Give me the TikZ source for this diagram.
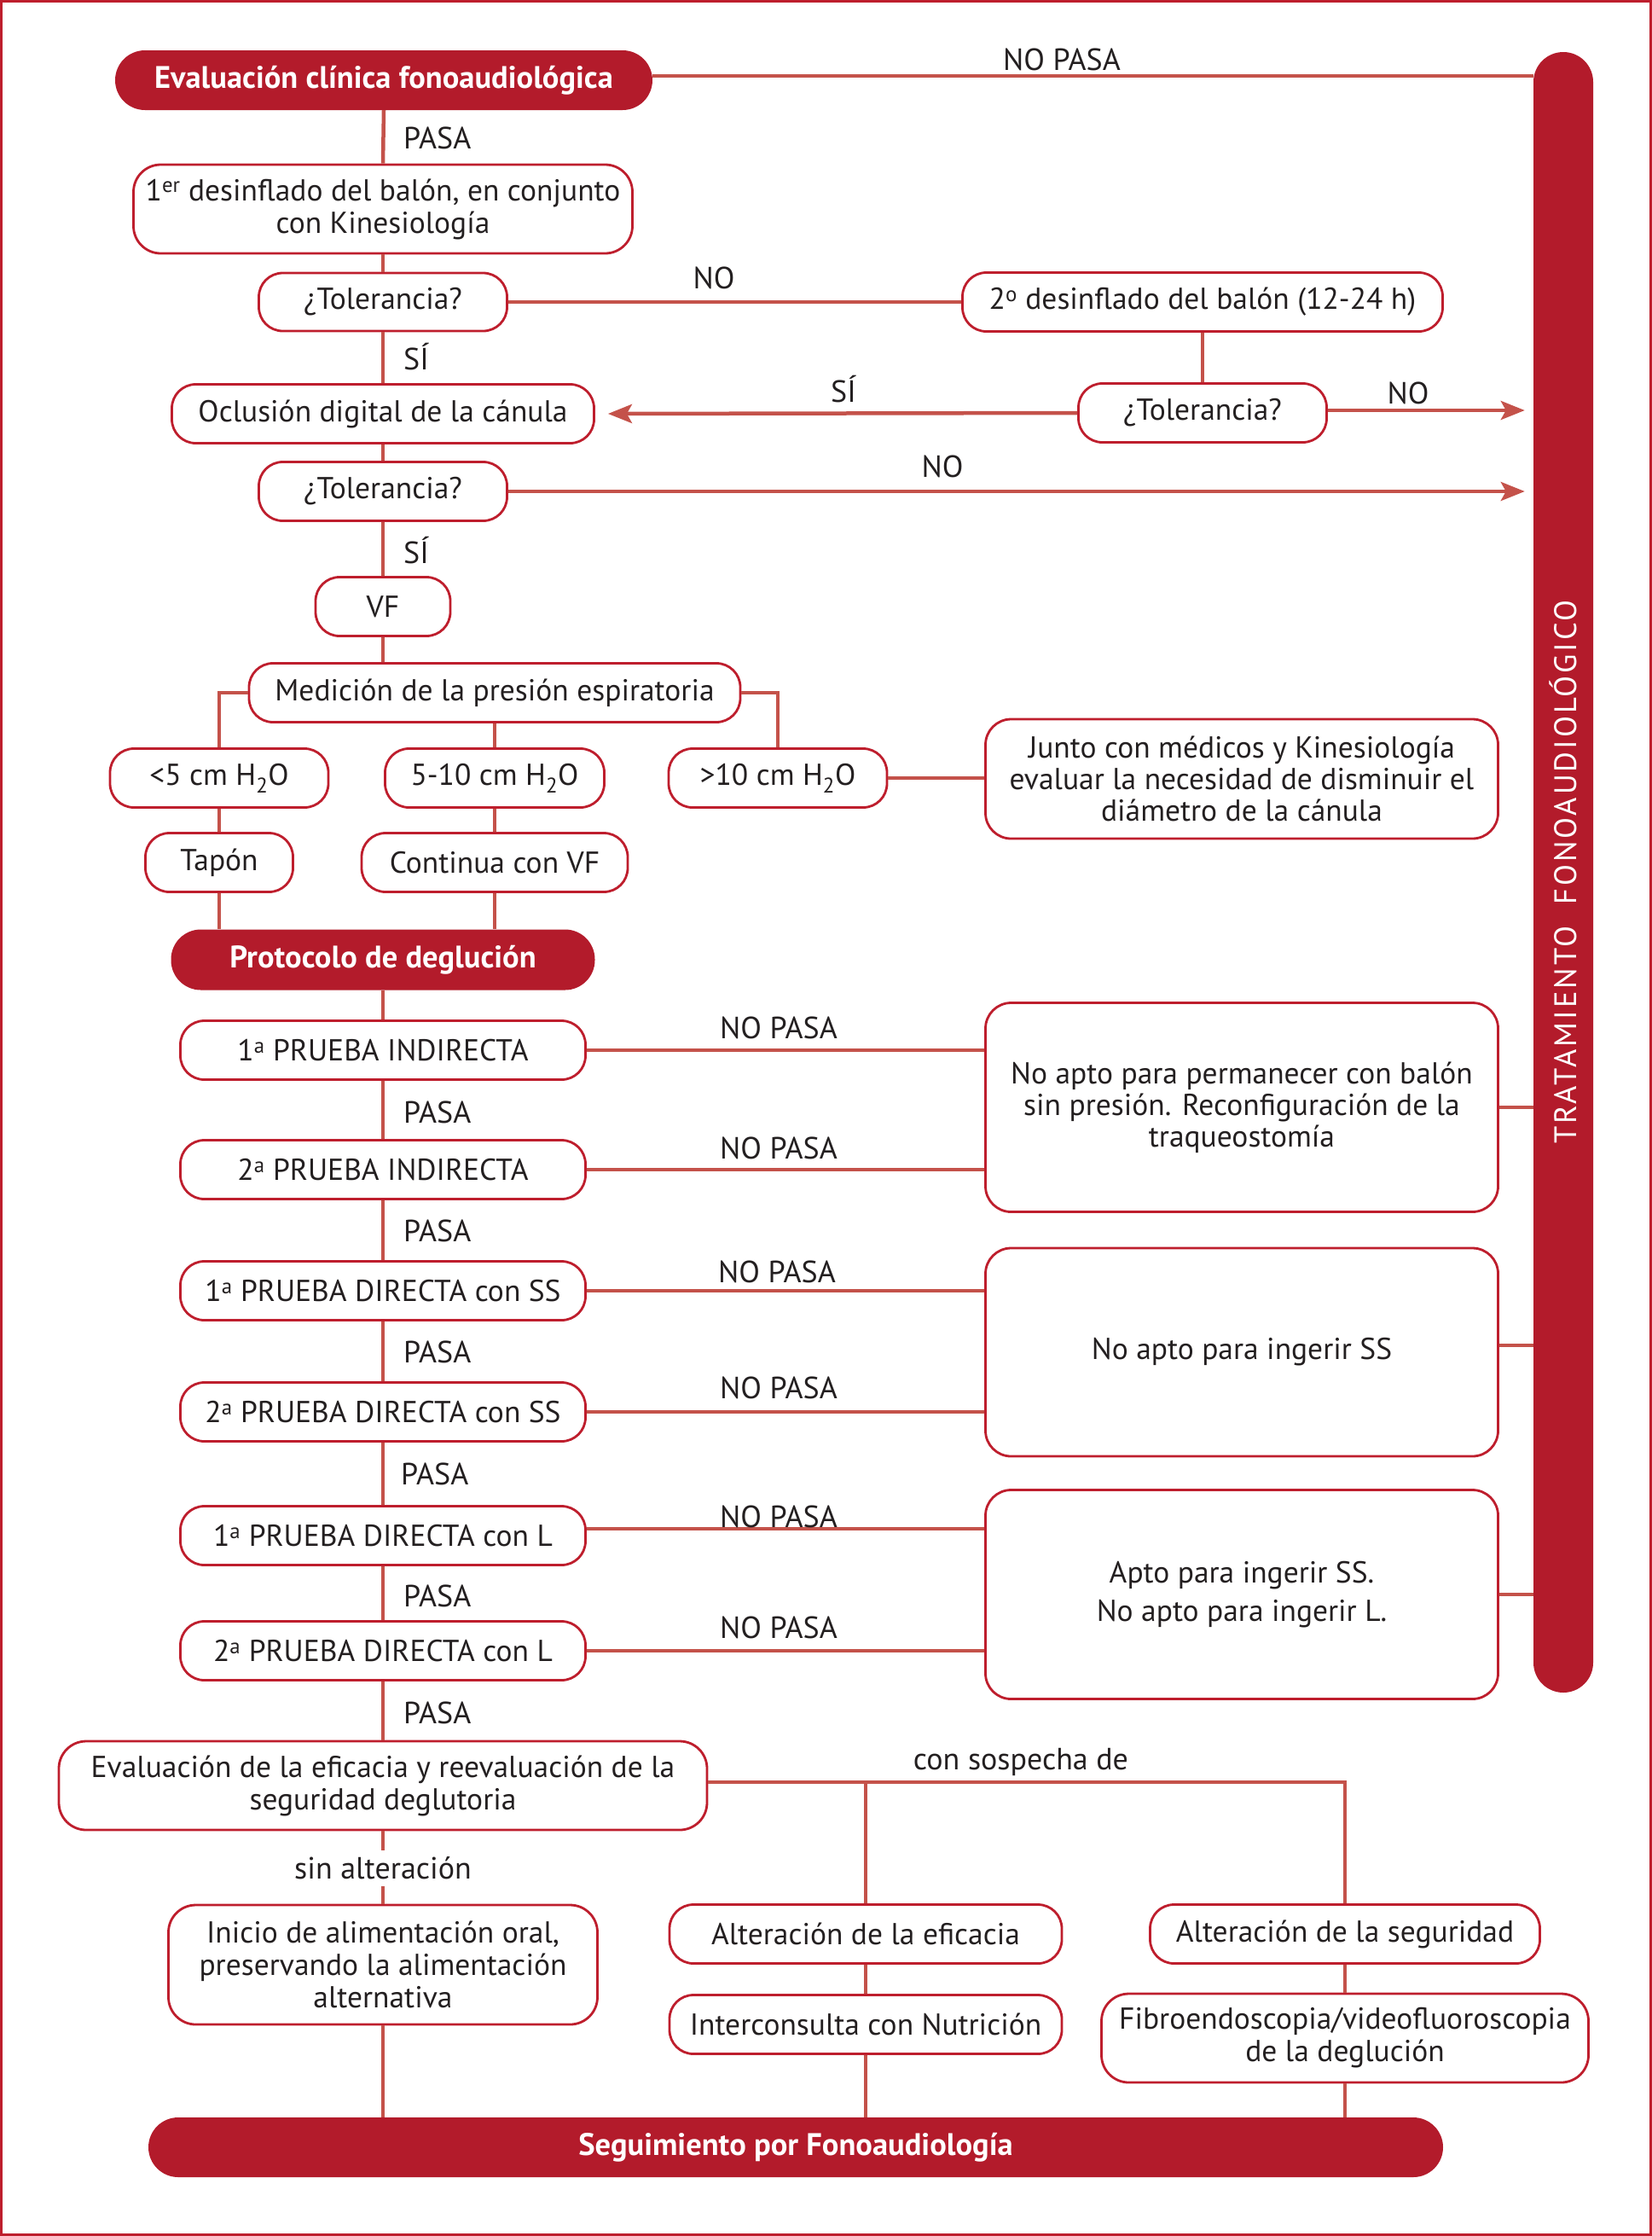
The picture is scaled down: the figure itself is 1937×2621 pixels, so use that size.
\documentclass[tikz,border=0pt]{standalone}
\usepackage{fontspec}
\setmainfont{PT Sans}
\newfontfamily\condf{PT Sans}
\newfontfamily\spacedf{PT Sans}[LetterSpace=8]
\usetikzlibrary{arrows.meta}
\definecolor{dred}{HTML}{B31B2B}
\definecolor{bord}{HTML}{BE1E2D}
\definecolor{lncol}{HTML}{C4524A}
\definecolor{txt}{HTML}{231F20}
\tikzset{
  box/.style={draw=bord, line width=2.8pt, fill=white, rounded corners=28pt, minimum height=69pt, inner sep=0pt, align=center, text=txt, font=\condf\fontsize{35.5}{38}\selectfont},
  redbox/.style={fill=dred, rounded corners=35pt, minimum height=70pt, inner sep=0pt, text=white, font=\condf\bfseries\fontsize{36.5}{38}\selectfont},
  bigbox/.style={box, font=\fontsize{35.5}{37}\selectfont, rounded corners=30pt},
  cline/.style={draw=lncol, line width=4.5pt},
  arr/.style={cline, -{Stealth[length=28pt,width=22pt,inset=6pt]}},
  lab/.style={text=txt, inner sep=0pt, font=\condf\fontsize{36}{38}\selectfont},
}
\begin{document}
\begin{tikzpicture}[x=1pt, y=-1pt]
\useasboundingbox (0,0) rectangle (1937,2621);
\draw[bord, line width=3pt] (1.5,1.5) rectangle (1935.5,2619.5);

% right bar
\node[fill=dred, rounded corners=35pt, minimum width=70pt, minimum height=1923pt, inner sep=0pt] (bar) at (1833,1022.5) {};
\node[rotate=90, text=white, inner sep=0pt, font=\spacedf\fontsize{36.5}{38}\selectfont] (bartxt) at (1833,1022) {TRATAMIENTO\ \ FONOAUDIOLÓGICO};

% nodes
\node[redbox, minimum width=630pt] (ev) at (450,94) {Evaluación clínica fonoaudiológica};
\node[box, minimum width=585pt, minimum height=104pt, rounded corners=32pt] (d1) at (449,245) {1\textsuperscript{er} desinflado del balón, en conjunto\\con Kinesiología};
\node[box, minimum width=291pt, minimum height=68pt] (t1) at (449,354) {¿Tolerancia?};
\node[box, minimum width=563pt] (d2) at (1410,354) {2\textsuperscript{o} desinflado del balón (12-24 h)};
\node[box, minimum width=291pt] (t2) at (1410,484) {¿Tolerancia?};
\node[box, minimum width=495pt] (ocl) at (449,485) {Oclusión digital de la cánula};
\node[box, minimum width=291pt] (t3) at (449,576) {¿Tolerancia?};
\node[box, minimum width=158pt] (vf) at (449,711) {VF};
\node[box, minimum width=576pt] (med) at (580,812) {Medición de la presión espiratoria};
\node[box, minimum width=256pt] (lt5) at (257,912) {<5 cm H\textsubscript{2}O};
\node[box, minimum width=257pt] (m510) at (580,912) {5-10 cm H\textsubscript{2}O};
\node[box, minimum width=256pt] (gt10) at (912,912) {>10 cm H\textsubscript{2}O};
\node[bigbox, minimum width=601pt, minimum height=140pt] (junto) at (1456,913) {Junto con médicos y Kinesiología\\evaluar la necesidad de disminuir el\\diámetro de la cánula};
\node[box, minimum width=173pt] (tap) at (257,1011) {Tapón};
\node[box, minimum width=312pt] (cont) at (580,1011) {Continua con VF};
\node[redbox, minimum width=497pt, minimum height=71pt] (prot) at (449,1125) {Protocolo de deglución};
\node[box, minimum width=475pt] (p1) at (449,1231) {1\textsuperscript{a} PRUEBA INDIRECTA};
\node[box, minimum width=475pt] (p2) at (449,1371) {2\textsuperscript{a} PRUEBA INDIRECTA};
\node[box, minimum width=475pt] (p3) at (449,1513) {1\textsuperscript{a} PRUEBA DIRECTA con SS};
\node[box, minimum width=475pt] (p4) at (449,1655) {2\textsuperscript{a} PRUEBA DIRECTA con SS};
\node[box, minimum width=475pt] (p5) at (449,1800) {1\textsuperscript{a} PRUEBA DIRECTA con L};
\node[box, minimum width=475pt] (p6) at (449,1935) {2\textsuperscript{a} PRUEBA DIRECTA con L};
\node[bigbox, minimum width=601pt, minimum height=245pt] (nb1) at (1456,1298) {No apto para permanecer con balón\\sin presión. Reconfiguración de la\\traqueostomía};
\node[bigbox, minimum width=601pt, minimum height=244pt] (nb2) at (1456,1585) {No apto para ingerir SS};
\node[bigbox, minimum width=601pt, minimum height=245pt, font=\fontsize{35.5}{45}\selectfont] (nb3) at (1456,1869) {Apto para ingerir SS.\\No apto para ingerir L.};
\node[box, minimum width=760pt, minimum height=104pt, rounded corners=32pt] (evalf) at (449,2093) {Evaluación de la eficacia y reevaluación de la\\seguridad deglutoria};
\node[box, minimum width=503pt, minimum height=140pt, rounded corners=32pt] (ini) at (449,2303) {Inicio de alimentación oral,\\preservando la alimentación\\alternativa};
\node[box, minimum width=460pt] (ae) at (1015,2267) {Alteración de la eficacia};
\node[box, minimum width=460pt] (ic) at (1015,2373) {Interconsulta con Nutrición};
\node[box, minimum width=457pt] (as) at (1577,2267) {Alteración de la seguridad};
\node[box, minimum width=571pt, minimum height=104pt, rounded corners=32pt] (fib) at (1577,2389) {Fibroendoscopia/videofluoroscopia\\de la deglución};
\node[redbox, minimum width=1518pt] (seg) at (933,2517) {Seguimiento por Fonoaudiología};

% connectors
\draw[cline] ([yshift=5pt]ev.east) -- ([yshift=5pt]ev.east -| bar.west);
\draw[cline] (ev.south) -- (d1.north);
\draw[cline] (d1.south) -- (t1.north);
\draw[cline] (t1.east) -- (t1.east -| d2.west);
\draw[cline] (d2.south) -- (t2.north);
\draw[arr] ([yshift=3pt]t2.east) -- ([xshift=-10pt,yshift=3pt]t2.east -| bar.west);
\draw[arr] (t2.west) -- ([xshift=15pt]ocl.east);
\draw[cline] (t1.south) -- (ocl.north);
\draw[cline] (ocl.south) -- (t3.north);
\draw[arr] (t3.east) -- ([xshift=-10pt]t3.east -| bar.west);
\draw[cline] (t3.south) -- (vf.north);
\draw[cline] (vf.south) -- (vf.south |- med.north);
\draw[cline] (med.west) -| (lt5.north);
\draw[cline] (med.east) -| (gt10.north);
\draw[cline] (med.south) -- (m510.north);
\draw[cline] (gt10.east) -- (gt10.east -| junto.west);
\draw[cline] (lt5.south) -- (tap.north);
\draw[cline] (m510.south) -- (cont.north);
\draw[cline] (tap.south) -- (tap.south |- prot.north);
\draw[cline] (cont.south) -- (cont.south |- prot.north);
\draw[cline] (prot.south) -- (p1.north);
\draw[cline] (p1.south) -- (p2.north);
\draw[cline] (p2.south) -- (p3.north);
\draw[cline] (p3.south) -- (p4.north);
\draw[cline] (p4.south) -- (p5.north);
\draw[cline] (p5.south) -- (p6.north);
\draw[cline] (p6.south) -- (evalf.north);
\draw[cline] (p1.east) -- (p1.east -| nb1.west);
\draw[cline] (p2.east) -- (p2.east -| nb1.west);
\draw[cline] (p3.east) -- (p3.east -| nb2.west);
\draw[cline] (p4.east) -- (p4.east -| nb2.west);
\draw[cline] ([yshift=8pt]p5.east) -- ([yshift=8pt]p5.east -| nb3.west);
\draw[cline] (p6.east) -- (p6.east -| nb3.west);
\draw[cline] (nb1.east) -- (nb1.east -| bar.west);
\draw[cline] ([yshift=8pt]nb2.east) -- ([yshift=8pt]nb2.east -| bar.west);
\draw[cline] (nb3.east) -- (nb3.east -| bar.west);
\draw[cline] ([yshift=4pt]evalf.east) -| (as.north);
\draw[cline] ([yshift=4pt]evalf.east -| ae.north) -- (ae.north);
\draw[cline] (ae.south) -- (ic.north);
\draw[cline] (ic.south) -- (ic.south |- seg.north);
\draw[cline] (as.south) -- (fib.north);
\draw[cline] (fib.south) -- (fib.south |- seg.north);
\draw[cline] (evalf.south) -- (ini.north);
\draw[cline] (ini.south) -- (ini.south |- seg.north);

% labels
\node[lab] (l0) at (1245,70) {NO PASA};
\node[lab, anchor=west] (l1) at (473,162) {PASA};
\node[lab] (l2) at (837,326) {NO};
\node[lab, anchor=west] (l3) at (473,418) {SÍ};
\node[lab] (l4) at (989,456) {SÍ};
\node[lab] (l5) at (1651,461) {NO};
\node[lab] (l6) at (1105,547) {NO};
\node[lab, anchor=west] (l7) at (473,645) {SÍ};
\node[lab, anchor=west] (l8) at (473,1304) {PASA};
\node[lab, anchor=west] (l9) at (473,1443) {PASA};
\node[lab, anchor=west] (l10) at (473,1585) {PASA};
\node[lab, anchor=west] (l11) at (470,1728) {PASA};
\node[lab, anchor=west] (l12) at (473,1871) {PASA};
\node[lab, anchor=west] (l13) at (473,2008) {PASA};
\node[lab] (n1) at (913,1205) {NO PASA};
\node[lab] (n2) at (913,1346) {NO PASA};
\node[lab] (n3) at (911,1491) {NO PASA};
\node[lab] (n4) at (913,1627) {NO PASA};
\node[lab] (n5) at (913,1778) {NO PASA};
\node[lab] (n6) at (913,1908) {NO PASA};
\node[lab] (cs) at (1197,2065) {con sospecha de};
\node[lab, fill=white, inner sep=8pt] (sa) at (449,2190) {sin alteración};
\end{tikzpicture}
\end{document}
